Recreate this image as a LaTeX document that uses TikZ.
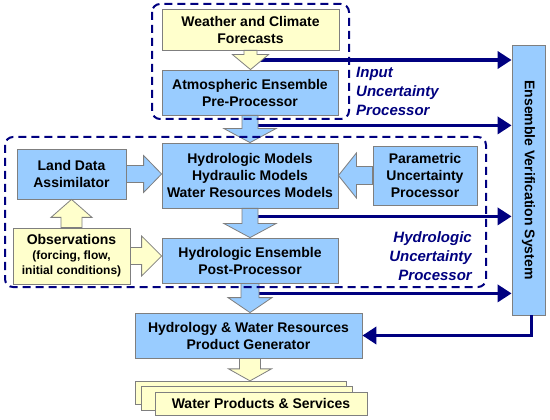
\documentclass[tikz,border=0pt]{standalone}
\usepackage{fontspec}
\setmainfont{Liberation Sans}
\usetikzlibrary{arrows.meta,calc}

\definecolor{boxblue}{HTML}{99CCFF}
\definecolor{boxyellow}{HTML}{FFFFCC}
\definecolor{navyline}{HTML}{000080}
\definecolor{edgegray}{HTML}{7F7F7F}

\tikzset{
  procbox/.style={draw=edgegray, fill=boxblue, line width=0.8pt, align=center,
    inner sep=0pt, font=\bfseries\fontsize{14}{17}\selectfont},
  inbox/.style={procbox, fill=boxyellow},
  feed/.style={draw=navyline, line width=3.5pt, -{Triangle[length=14pt,width=17pt]}},
  group/.style={draw=navyline, line width=2pt, dash pattern=on 8pt off 5pt, rounded corners=8pt},
  grouplabel/.style={text=navyline, inner sep=0pt, font=\bfseries\itshape\fontsize{15}{19}\selectfont},
  bluearrow/.style={draw=edgegray, fill=boxblue, line width=0.8pt},
  yellowarrow/.style={bluearrow, fill=boxyellow},
}

% block arrow: style, start, tip, shaft half width, head half width, head length
\newcommand{\blockarrow}[6]{%
  \coordinate (ba-s) at #2;
  \coordinate (ba-t) at #3;
  \coordinate (ba-b) at ($(ba-t)!#6pt!(ba-s)$);
  \filldraw[#1] ($(ba-s)!#4pt!90:(ba-t)$) -- ($(ba-b)!#4pt!90:(ba-t)$)
    -- ($(ba-b)!#5pt!90:(ba-t)$) -- (ba-t) -- ($(ba-b)!#5pt!-90:(ba-t)$)
    -- ($(ba-b)!#4pt!-90:(ba-t)$) -- ($(ba-s)!#4pt!-90:(ba-t)$) -- cycle;
}

\begin{document}
\begin{tikzpicture}[x=1pt, y=-1pt]
  \fill[white] (0,0) rectangle (550,420);
  \useasboundingbox (0,0) rectangle (550,420);

  % Forecast chain
  \node[inbox, minimum width=177pt, minimum height=41pt] (wx) at (250.5,29.5)
    {Weather and Climate\\Forecasts};
  \node[procbox, minimum width=176pt, minimum height=45pt] (atm) at (250,92.5)
    {Atmospheric Ensemble\\Pre-Processor};

  % Hydrologic part
  \node[procbox, minimum width=109pt, minimum height=50pt] (land) at (71.5,174)
    {Land Data\\Assimilator};
  \node[procbox, minimum width=176pt, minimum height=65pt] (hydro) at (250,175.5)
    {Hydrologic Models\\Hydraulic Models\\Water Resources Models};
  \node[procbox, minimum width=104pt, minimum height=59pt] (param) at (425,175.5)
    {Parametric\\Uncertainty\\Processor};
  \node[inbox, minimum width=117pt, minimum height=56pt, font=\bfseries\fontsize{12}{15}\selectfont]
    (obs) at (71.5,256)
    {{\fontsize{14}{15}\selectfont Observations}\\(forcing, flow,\\initial conditions)};
  \node[procbox, minimum width=176pt, minimum height=45pt] (post) at (250,260.5)
    {Hydrologic Ensemble\\Post-Processor};

  % Products
  \node[procbox, minimum width=227pt, minimum height=45pt] (prod) at (248.5,335.5)
    {Hydrology \& Water Resources\\Product Generator};
  \node[inbox, minimum width=211pt, minimum height=23.5pt] (water3) at (240.5,393) {};
  \node[inbox, minimum width=211pt, minimum height=23.5pt] (water2) at (247,398.5) {};
  \node[inbox, minimum width=212pt, minimum height=23pt] (water) at (261,403.5)
    {Water Products \& Services};

  % Verification (rotated: south is the left side, east the bottom)
  \node[procbox, minimum width=270pt, minimum height=33pt, rotate=-90] (ver) at (528.5,180)
    {Ensemble Verification System};

  % Feeds into verification
  \coordinate (f1) at ($(wx.south)!0.5!(atm.north)$);
  \coordinate (f2) at ($(atm.south)+(0,10)$);
  \coordinate (f3) at ($(hydro.south)+(0,8)$);
  \coordinate (f4) at ($(post.south)+(0,10)$);
  \draw[feed] (f1) -- (f1 -| ver.south);
  \draw[feed] (f2) -- (f2 -| ver.south);
  \draw[feed] (f3) -- (f3 -| ver.south);
  \draw[feed] (f4) -- (f4 -| ver.south);
  \coordinate (back) at ($(ver.east)+(3,0)$);
  \draw[feed] (back) |- (prod.east);

  % Block arrows
  \blockarrow{yellowarrow}{(wx.south)}{(wx.south |- atm.north)}{6.5}{18}{15}
  \blockarrow{bluearrow}{(atm.south)}{(atm.south |- hydro.north)}{8}{26}{14}
  \blockarrow{bluearrow}{(land.east)}{(land.east -| hydro.west)}{8.5}{18.5}{18}
  \blockarrow{bluearrow}{(param.west)}{(param.west -| hydro.east)}{9}{22.5}{18}
  \blockarrow{bluearrow}{(hydro.south)}{(hydro.south |- post.north)}{8}{26}{14}
  \blockarrow{yellowarrow}{(obs.north)}{(obs.north |- land.south)}{10.5}{20.5}{18}
  \blockarrow{yellowarrow}{(obs.east)}{(obs.east -| post.west)}{8.5}{20}{20}
  \blockarrow{bluearrow}{(post.south)}{(post.south |- prod.north)}{9}{22}{15}
  \blockarrow{yellowarrow}{(post.south |- prod.south)}{(post.south |- water3.north)}{10.5}{21.5}{12}

  % Uncertainty groups
  \draw[group] (152,4) rectangle (349,119);
  \draw[group] (5,137) rectangle (486,287);
  \node[grouplabel, align=left, anchor=west] (inlab) at (356,91)
    {Input\\Uncertainty\\Processor};
  \node[grouplabel, align=right, anchor=east] (hylab) at (472,256)
    {Hydrologic\\Uncertainty\\Processor};
\end{tikzpicture}
\end{document}
